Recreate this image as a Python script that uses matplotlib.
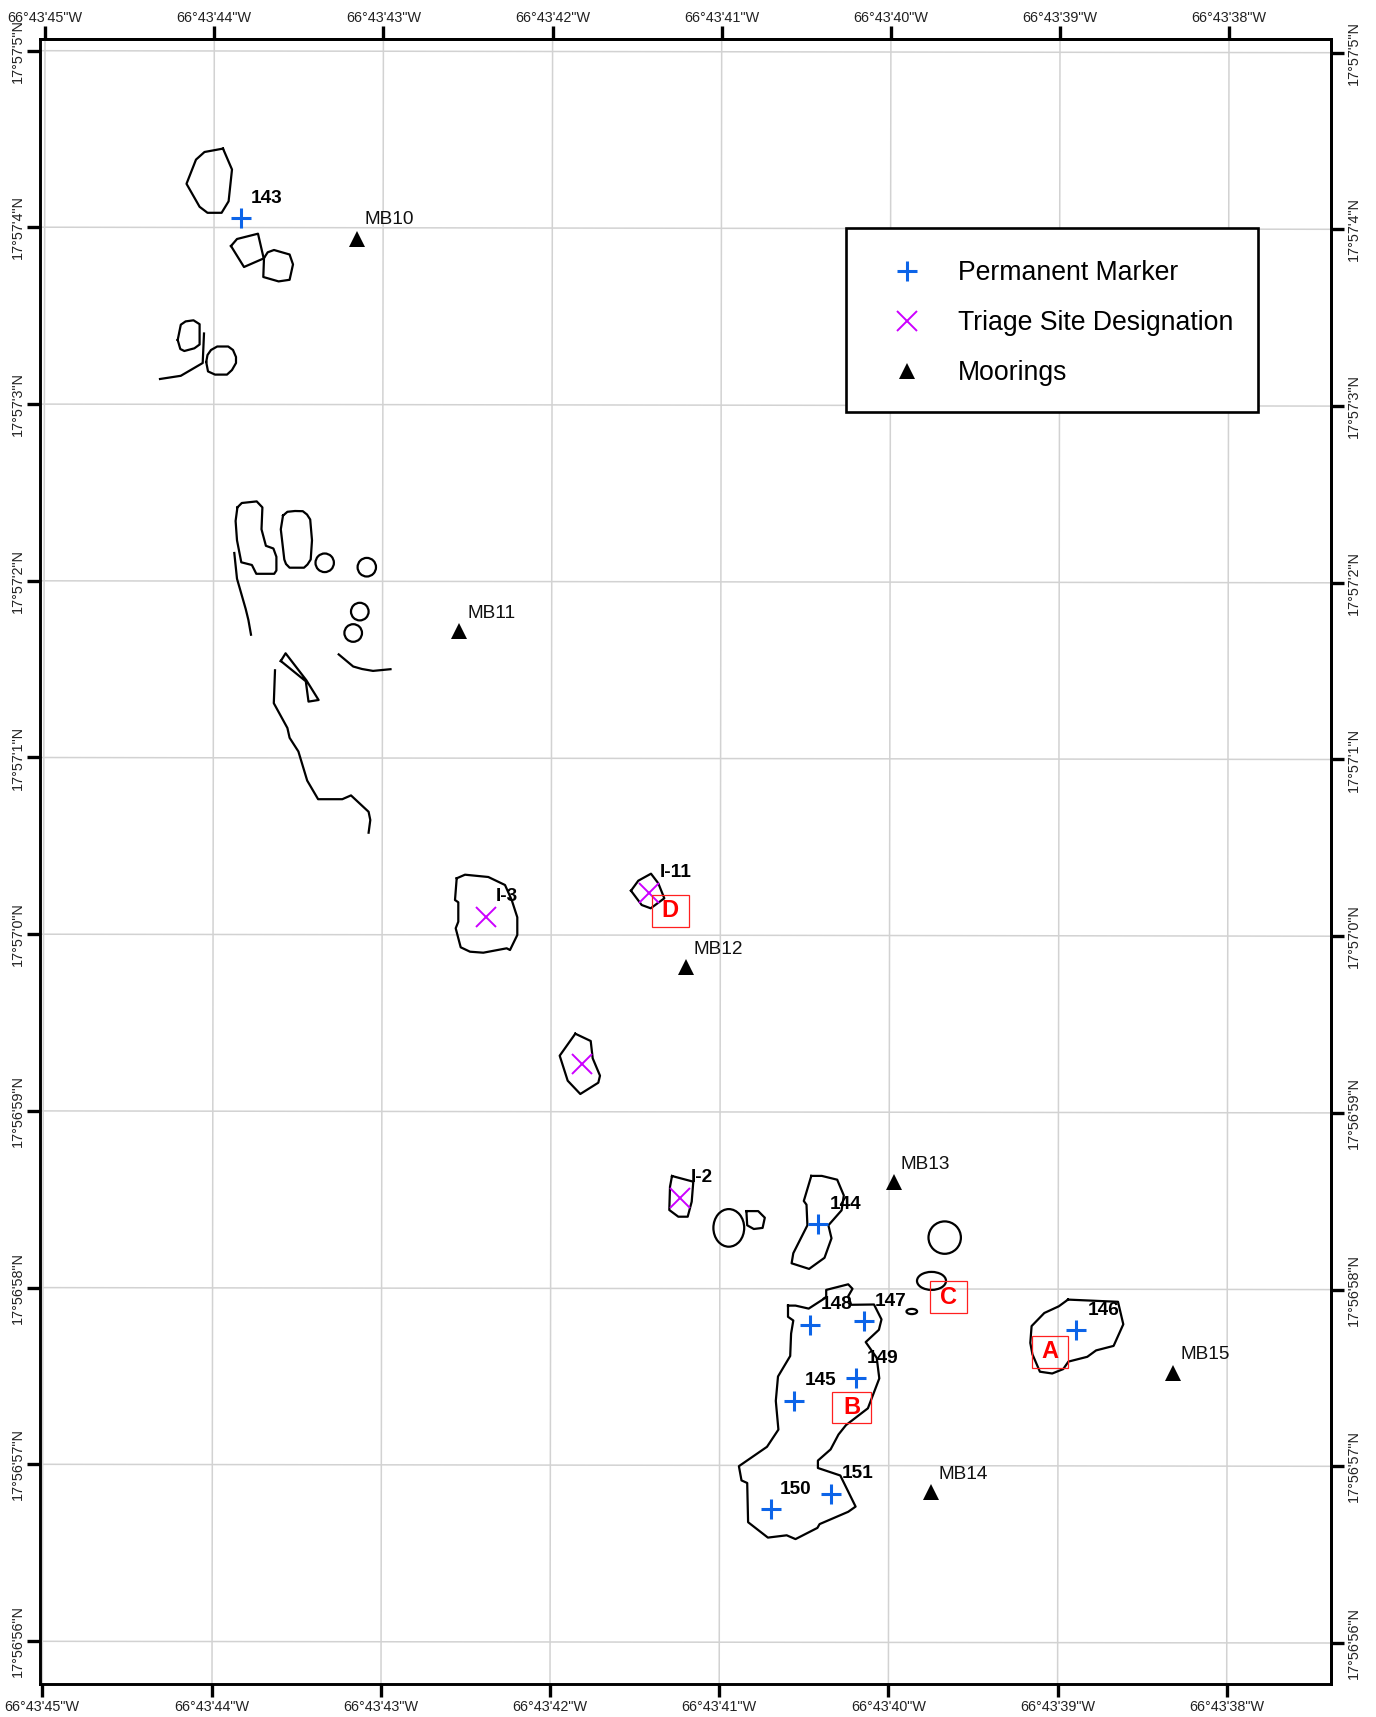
import matplotlib
matplotlib.use('Agg')
import matplotlib.pyplot as plt
from matplotlib.lines import Line2D
from matplotlib.patches import Ellipse, Rectangle

plt.rcParams['font.family'] = ['Liberation Sans', 'DejaVu Sans']

# graticule, read along each side of the map frame (map units, slightly tilted)
lon_labels = ['66°43\'45"W', '66°43\'44"W', '66°43\'43"W', '66°43\'42"W',
              '66°43\'41"W', '66°43\'40"W', '66°43\'39"W', '66°43\'38"W']
lon_top = [45, 214.3, 383.4, 552.6, 721.7, 890.9, 1060, 1229]
lon_bottom = [42.3, 212, 381, 550, 719.2, 888.4, 1057.6, 1226.7]

lat_labels = ['17°57\'5"N', '17°57\'4"N', '17°57\'3"N', '17°57\'2"N', '17°57\'1"N',
              '17°57\'0"N', '17°56\'59"N', '17°56\'58"N', '17°56\'57"N', '17°56\'56"N']
lat_left = [50.7, 227.2, 404.1, 580.8, 757.5, 934.2, 1110.9, 1287.6, 1464.3, 1641.3]
lat_right = [52.7, 229.3, 406.1, 582.8, 759.5, 936.2, 1112.9, 1289.6, 1466.3, 1643]

# reef outlines
reef_a = [(223, 148.6), (204.5, 152), (196, 159.6), (186.5, 183.8), (199.6, 206.8), (207.5, 212.8), (221.6, 212.8), (228.6, 201.3), (232, 169.5), (223, 148.6)]
reef_b = [(231, 246), (237, 239), (258, 233.7), (263.7, 258.4), (244, 267), (231, 246)]
reef_c = [(264, 258), (267.7, 252.3), (274, 250), (289.6, 254.5), (293, 264.4), (289.6, 279.8), (278.6, 281.4), (263.3, 277), (264, 258)]
reef_d = [(177.7, 340), (180.8, 324.7), (185.6, 321.4), (193.5, 320.3), (199.6, 324.2), (199.6, 344.5), (194.4, 348.3), (184.3, 351), (180.3, 349), (177.7, 340)]
reef_e = [(206.2, 362), (207.5, 355), (211, 350), (217.2, 346.5), (228.2, 346.5), (233, 350), (236, 357), (236, 363), (232, 370), (227, 374.6), (215, 374.6), (208, 371.4), (206.2, 362)]
reef_f = [(237.4, 507.4), (241.8, 503), (256.7, 501.4), (262.4, 507.4), (261.5, 529.3), (265.9, 545.8), (273.4, 548.5), (276.4, 556.8), (276.4, 570.5), (274.2, 573.8), (256.3, 573.8), (251.9, 565), (241.3, 562.3), (237, 540.3), (235.6, 521), (237.4, 507.4)]
reef_g = [(283, 515.6), (287.4, 511.8), (295, 511), (302.8, 511.2), (307, 514.5), (310.2, 519.5), (312, 540.3), (310.7, 559.5), (307.5, 564.5), (304, 567.7), (289.6, 567.7), (286, 564), (284.3, 559.5), (280.8, 529.3), (283, 515.6)]
reef_h = [(280.8, 661), (285.6, 653.3), (306.3, 680.2), (318.6, 700), (308.5, 701.6), (305.8, 681.3), (280.8, 661)]
reef_i3 = [(456.7, 878.3), (465, 874.7), (488.3, 877), (505, 885), (511.7, 900), (517.3, 917.3), (517.3, 935), (510, 950), (506.7, 948.3), (483.3, 952.7), (470, 951.7), (460.7, 947.3), (455.7, 928.3), (458.3, 921.7), (458.3, 902.3), (455, 900), (456.7, 878.3)]
reef_i11 = [(631, 890.7), (638.3, 880.7), (651, 873.7), (658.3, 883.3), (664.3, 898.3), (650.7, 908.3), (641.7, 905), (631, 890.7)]
reef_j = [(575.3, 1033.7), (590.7, 1041), (592.7, 1058.3), (600, 1075.7), (598.3, 1082.7), (580.3, 1094), (567.7, 1080.7), (559.7, 1055.7), (575.3, 1033.7)]
reef_i2 = [(672, 1176), (693.3, 1181.7), (691.7, 1201.7), (687.7, 1216.7), (678.3, 1216.7), (669.3, 1210), (670, 1186.7), (672, 1176)]
reef_k = [(746.4, 1211.1), (758.2, 1211.1), (764.8, 1217.7), (762.6, 1227.9), (753.8, 1229), (747.2, 1225.3), (746.4, 1211.1)]
reef_144 = [(811.3, 1175.9), (821.8, 1175.9), (837.2, 1179.7), (843.8, 1195.4), (841.6, 1210.3), (828.4, 1225.3), (831.5, 1238.3), (824.5, 1257.8), (809.1, 1268.9), (791.6, 1263.3), (793.3, 1253.2), (807.4, 1225.3), (806.5, 1204.7), (803.8, 1201), (811.3, 1175.9)]
reef_main = [(788, 1305.6), (795.5, 1305.6), (808.7, 1308.6), (826.2, 1297.3), (826.2, 1289.9), (848.2, 1284.3), (852.5, 1288.8), (848.2, 1296.2), (851.2, 1304.8), (874, 1304.5), (881.5, 1319.4), (878.9, 1329.8), (865.7, 1342.1), (876.7, 1357.8), (879.3, 1378.4), (867.9, 1408.3), (846, 1425.1), (838.5, 1434.5), (830.6, 1449.4), (817.9, 1460.6), (817.9, 1468), (840.3, 1475.5), (855.6, 1506.6), (848.2, 1511.8), (819.6, 1524.1), (817.4, 1527.9), (795.5, 1539.1), (786.7, 1535.3), (767.9, 1537.6), (748.1, 1522.2), (747.2, 1483), (741.5, 1480.4), (738.9, 1466.2), (767, 1446.8), (778.4, 1429.6), (775.8, 1400.9), (778, 1376.5), (790.2, 1356), (791.1, 1333.6), (793.3, 1320.5), (788, 1316.8), (788, 1305.6)]
reef_146 = [(1068, 1299.6), (1118, 1301.8), (1123.3, 1324.3), (1113.6, 1345.9), (1096.1, 1350.4), (1087.3, 1356.8), (1068.4, 1361.6), (1063.2, 1369.1), (1052.2, 1373.5), (1039.9, 1371.7), (1032.4, 1354.2), (1030.3, 1342.9), (1031.6, 1326.1), (1044.3, 1313), (1058.8, 1306.3), (1068, 1299.6)]

line_a = [(204, 333.5), (202.7, 363), (180.8, 375.8), (160, 379)]
line_b = [(234.3, 553), (237, 578.7), (245.7, 609), (248.4, 620), (251, 634.7)]
line_c = [(338.7, 654.4), (353.2, 666.5), (362, 669), (373, 670.9), (390.5, 669.2)]
line_d = [(275, 670.3), (273.8, 703.2), (287.4, 728), (289.6, 737.8), (298.4, 751.5), (307.2, 780.6), (318.1, 799.2), (342.3, 799.2), (351, 795.4), (368.6, 811.8), (370.3, 820), (368.6, 832.7)]

reefs = [reef_a, reef_b, reef_c, reef_d, reef_e, reef_f, reef_g, reef_h, reef_i3, reef_i11,
         reef_j, reef_i2, reef_k, reef_144, reef_main, reef_146,
         line_a, line_b, line_c, line_d]

# small round patch reefs: centre x, centre y, x radius, y radius
round_x = [324.7, 366.8, 359.8, 353.2, 728.8, 944.7, 931.5, 911.8]
round_y = [562.8, 567.2, 611.6, 633, 1227.9, 1237.6, 1280.9, 1311.5]
round_rx = [9.2, 9.2, 8.8, 8.8, 15.4, 16.2, 14.5, 5.3]
round_ry = [9.3, 9.3, 8.8, 8.8, 18.8, 16.2, 9, 2.6]

marker_x = [241.3, 818.3, 809.5, 864, 855.6, 793.7, 831, 770.5, 1076.3]
marker_y = [218.3, 1224.1, 1325, 1321.3, 1378, 1400.9, 1493.9, 1508.8, 1330.2]

triage_x = [485.7, 649, 581.7, 680.3]
triage_y = [916.7, 892.7, 1064, 1197.7]

mooring_x = [356.7, 459.4, 686, 893.8, 1172.9, 931.1]
mooring_y = [239, 631.4, 967.3, 1182.3, 1372.8, 1492.4]

mooring_names = ['MB10', 'MB11', 'MB12', 'MB13', 'MB15', 'MB14']
mooring_name_x = [364, 467.3, 693.3, 900.8, 1180.3, 938.1]
mooring_name_y = [220, 613, 949.3, 1164.8, 1354, 1474.3]

site_names = ['143', '144', '145', '146', '147', '148', '149', '150', '151', 'I-3', 'I-11', 'I-2']
site_name_x = [251, 829.3, 804.7, 1087.3, 875, 821, 867, 780.1, 842, 495.3, 660, 690.7]
site_name_y = [198.7, 1204.4, 1380, 1310.6, 1301.5, 1304.1, 1358, 1489.1, 1473, 896.2, 872.9, 1177.9]

box_names = ['A', 'B', 'C', 'D']
box_left = [1031.6, 831.9, 930.2, 652]
box_right = [1068, 871, 966.6, 688.7]
box_top = [1335.8, 1391.8, 1281.3, 895]
box_bottom = [1367.6, 1422.5, 1313, 926.7]

fig = plt.figure(figsize=(13.76, 17.17), dpi=100)
ax = fig.add_axes([39.5 / 1376, 1 - 1683.7 / 1717, (1331 - 39.5) / 1376, (1683.7 - 39) / 1717])
ax.set_xlim(39.5, 1331)
ax.set_ylim(1683.7, 39)

# graticule
for x0, x1 in zip(lon_top, lon_bottom):
    ax.plot([x0, x1], [39, 1683.7], color='#d2d2d2', lw=1.1, zorder=1)
for y0, y1 in zip(lat_left, lat_right):
    ax.plot([39.5, 1331], [y0, y1], color='#d2d2d2', lw=1.1, zorder=1)

for r in reefs:
    ax.plot([p[0] for p in r], [p[1] for p in r], color='black', lw=1.6, zorder=2)
for cx, cy, rx, ry in zip(round_x, round_y, round_rx, round_ry):
    ax.add_patch(Ellipse((cx, cy), 2 * rx, 2 * ry, fill=False, ec='black', lw=1.6, zorder=2))

ax.plot(marker_x, marker_y, ls='none', marker='+', ms=15, mew=2.2, color='#0c64e8', zorder=3)
ax.plot(triage_x, triage_y, ls='none', marker='x', ms=14, mew=1.4, color='#cc00ff', zorder=3)
ax.plot(mooring_x, mooring_y, ls='none', marker='^', ms=11, color='black', mew=0, zorder=3)

for n, x, y in zip(mooring_names, mooring_name_x, mooring_name_y):
    ax.text(x, y, n, fontsize=13.7, va='center', ha='left', color='#111111', zorder=4)
for n, x, y in zip(site_names, site_name_x, site_name_y):
    ax.text(x, y, n, fontsize=13.7, fontweight='bold', va='center', ha='left', color='black', zorder=4)
for n, x0, x1, y0, y1 in zip(box_names, box_left, box_right, box_top, box_bottom):
    ax.add_patch(Rectangle((x0, y0), x1 - x0, y1 - y0, fill=False, ec='#ff2020', lw=0.9, zorder=5))
    ax.text((x0 + x1) / 2, (y0 + y1) / 2, n, fontsize=17, fontweight='bold', color='#ff0000',
            ha='center', va='center', zorder=5)

# legend box drawn apart so its size does not depend on the legend padding
ax.add_patch(Rectangle((845.9, 228.3), 1258 - 845.9, 412.3 - 228.3, fc='white', ec='black', lw=1.9, zorder=6))
handles = [
    Line2D([], [], ls='none', marker='+', ms=15, mew=2.2, color='#0c64e8', label='Permanent Marker'),
    Line2D([], [], ls='none', marker='x', ms=14, mew=1.4, color='#cc00ff', label='Triage Site Designation'),
    Line2D([], [], ls='none', marker='^', ms=11, mew=0, color='black', label='Moorings'),
]
leg = ax.legend(handles=handles, loc='upper left', bbox_to_anchor=(887, 260.5), bbox_transform=ax.transData,
                fontsize=19.2, frameon=False, borderpad=0, labelspacing=0.9, handlelength=1.5,
                handletextpad=1.17, borderaxespad=0)
leg.set_zorder(7)

# ticks on all four sides of the frame
ax.set_xticks(lon_bottom, lon_labels)
ax.set_yticks(lat_left, lat_labels, rotation=90, va='center')
top = ax.secondary_xaxis('top')
top.set_xticks(lon_top, lon_labels)
right = ax.secondary_yaxis('right')
right.set_yticks(lat_right, lat_labels, rotation=90, va='center')

ax.tick_params(axis='x', length=9.5, width=2.4, labelsize=10.4, pad=2, labelcolor='#222222')
ax.tick_params(axis='y', length=9.5, width=2.4, labelsize=10.4, pad=0.8, labelcolor='#222222')
top.tick_params(length=9.5, width=2.4, labelsize=10.4, pad=0.8, labelcolor='#222222')
right.tick_params(length=9.5, width=2.4, labelsize=10.4, pad=2, labelcolor='#222222')
for a in [ax, top, right]:
    for s in a.spines.values():
        s.set_linewidth(2.1)

fig.savefig('out.png', dpi=100)
